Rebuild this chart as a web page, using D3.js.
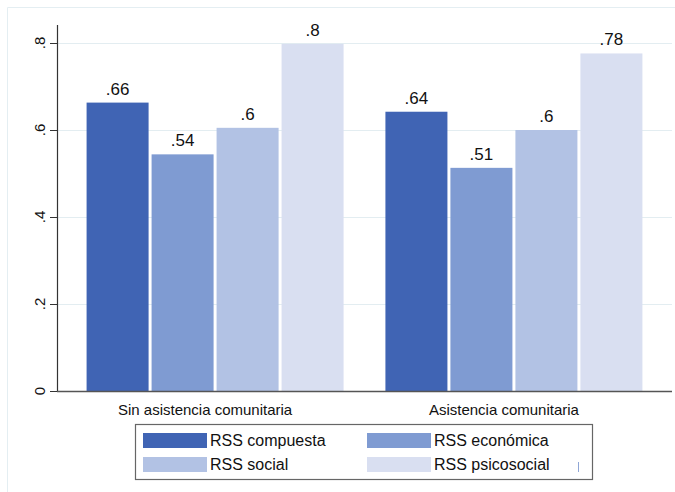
<!DOCTYPE html>
<html>
<head>
<meta charset="utf-8">
<script src="https://cdn.jsdelivr.net/npm/d3@7"></script>
<style>
  html, body { margin: 0; padding: 0; background: #fff; }
  svg { display: block; font-family: "Liberation Sans", Arial, sans-serif; }
</style>
</head>
<body>
<svg id="chart" width="675" height="492"></svg>
<script>
const groups = ["Sin asistencia comunitaria", "Asistencia comunitaria"];
const series = ["RSS compuesta", "RSS económica", "RSS social", "RSS psicosocial"];
const compuesta = [0.663, 0.642];
const economica = [0.544, 0.513];
const social = [0.605, 0.600];
const psicosocial = [0.798, 0.776];
const labels = [[".66", ".54", ".6", ".8"], [".64", ".51", ".6", ".78"]];
const yTicks = [0, 0.2, 0.4, 0.6, 0.8];
const yTickLabels = ["0", ".2", ".4", ".6", ".8"];
const colors = ["#4064b4", "#7f9bd2", "#b2c2e4", "#d9dff1"];

const values = [compuesta, economica, social, psicosocial];
const svg = d3.select("#chart");

// outer frame (light)
svg.append("line").attr("x1", 7.5).attr("x2", 7.5).attr("y1", 7.5).attr("y2", 492).attr("stroke", "#e4eef2");
svg.append("line").attr("x1", 7.5).attr("x2", 675).attr("y1", 7.5).attr("y2", 7.5).attr("stroke", "#e4eef2");

const left = 57, right = 672, y0px = 391;
const y = d3.scaleLinear().domain([0, 0.8]).range([y0px, 43]);
const x0 = d3.scaleBand().domain(groups).range([left, right]).paddingInner(0.14).paddingOuter(0.099);
const x1 = d3.scaleBand().domain(series).range([0, x0.bandwidth()]).paddingInner(0.046).paddingOuter(0);

// gridlines
svg.append("g").selectAll("line").data(yTicks.filter(d => d > 0)).join("line")
  .attr("x1", left).attr("x2", right)
  .attr("y1", d => Math.round(y(d)) + 0.5).attr("y2", d => Math.round(y(d)) + 0.5)
  .attr("stroke", "#e3edf1").attr("stroke-width", 1.2);

// bars
const gg = svg.append("g").selectAll("g").data(groups).join("g")
  .attr("transform", g => `translate(${x0(g)},0)`);
gg.each(function(g, gi) {
  const sel = d3.select(this);
  series.forEach((s, si) => {
    const v = values[si][gi];
    sel.append("rect")
      .attr("x", x1(s)).attr("width", x1.bandwidth())
      .attr("y", y(v)).attr("height", y(0) - y(v))
      .attr("fill", colors[si]);
    sel.append("text")
      .attr("x", x1(s) + x1.bandwidth() / 2).attr("y", y(v) - 8)
      .attr("text-anchor", "middle").attr("font-size", 17).attr("fill", "#111")
      .text(labels[gi][si]);
  });
});

// y axis
const yAxis = d3.axisLeft(y).tickValues(yTicks).tickSize(7).tickFormat((d, i) => yTickLabels[i]);
const ya = svg.append("g").attr("transform", `translate(${left},0)`).call(yAxis);
ya.select(".domain").remove();
ya.selectAll(".tick line").attr("stroke", "#333");
ya.selectAll(".tick text").remove();
svg.append("line").attr("x1", left + 0.5).attr("x2", left + 0.5).attr("y1", 25).attr("y2", y0px + 0.5).attr("stroke", "#333").attr("stroke-width", 1.2);
svg.append("g").selectAll("text").data(yTicks).join("text")
  .attr("transform", d => `translate(${left - 12},${y(d)}) rotate(-90)`)
  .attr("text-anchor", "middle").attr("font-size", 15).attr("fill", "#111")
  .text((d, i) => yTickLabels[i]);

// x axis
svg.append("line").attr("x1", left).attr("x2", right).attr("y1", y0px + 0.5).attr("y2", y0px + 0.5).attr("stroke", "#555").attr("stroke-width", 1.3);
svg.append("g").selectAll("text").data(groups).join("text")
  .attr("x", g => x0(g) + x0.bandwidth() / 2 - 10).attr("y", 415)
  .attr("text-anchor", "middle").attr("font-size", 15).attr("fill", "#111")
  .text(g => g);

// legend
const lg = svg.append("g");
lg.append("rect").attr("x", 135.5).attr("y", 424.5).attr("width", 457).attr("height", 55)
  .attr("fill", "#fff").attr("stroke", "#666").attr("stroke-width", 1.2);
const colX = [143, 367];
const rowY = [433, 457];
series.forEach((s, i) => {
  const cx = colX[i % 2], ry = rowY[Math.floor(i / 2)];
  lg.append("rect").attr("x", cx).attr("y", ry).attr("width", 64).attr("height", 15).attr("fill", colors[i]);
  lg.append("text").attr("x", cx + 67).attr("y", ry + 13).attr("font-size", 16).attr("fill", "#111").text(s);
});
lg.append("line").attr("x1", 578.5).attr("x2", 578.5).attr("y1", 462).attr("y2", 472).attr("stroke", "#8fa6d6").attr("stroke-width", 1);
</script>
</body>
</html>
